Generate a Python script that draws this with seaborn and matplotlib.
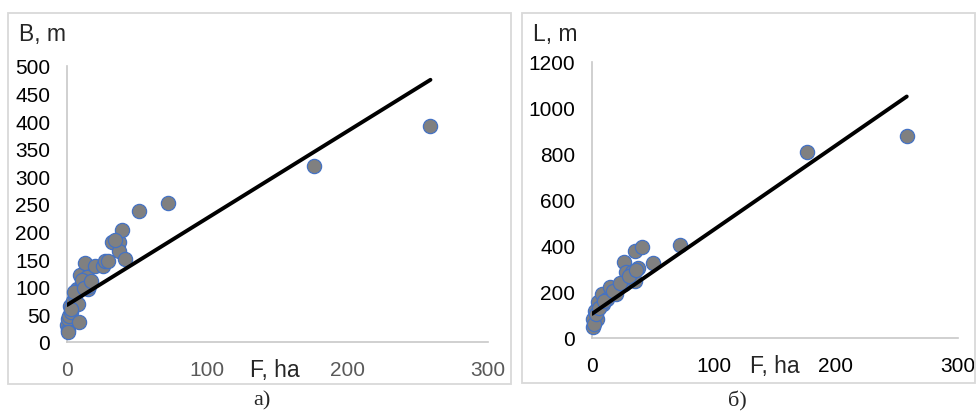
import pandas as pd
import seaborn as sns
import matplotlib.pyplot as plt
from matplotlib.patches import Rectangle

# panel a) - B vs F
F_a = [0.3, 0.5, 1, 1.5, 2, 3, 4.5, 6, 7, 8, 8.5, 10.5, 9, 13, 14, 15, 16, 20, 26,
       27, 32, 37, 37, 39, 41, 51, 72, 176, 259, 1, 2.5, 5, 11, 12, 17, 29, 34]
B_a = [30, 21, 42, 48, 66, 54, 75, 84, 96, 69, 36, 105, 121, 144, 117, 96, 102, 138, 138,
       146, 182, 181, 165, 203, 150, 238, 251, 319, 391, 18, 60, 90, 112, 98, 110, 147, 185]
trend_F_a = [0, 259]
trend_B_a = [67, 475]

# panel б) - L vs F
F_b = [0.5, 1, 2.5, 4, 5, 8, 9, 12, 15, 20, 26, 26, 28, 32.5, 35, 35, 38, 41, 50,
       72, 176, 258, 1.5, 3, 6, 10, 17, 23, 30, 36]
L_b = [47, 83, 119, 83, 155, 191, 148, 170, 220, 191, 235, 332, 285, 285, 249, 377,
       303, 394, 325, 404, 809, 878, 60, 105, 130, 160, 205, 240, 270, 295]
trend_F_b = [0, 258]
trend_L_b = [105, 1050]

sns.set_style("white")
plt.rcParams['font.family'] = ['Liberation Sans', 'DejaVu Sans']

fig = plt.figure(figsize=(9.79, 4.14), dpi=100)
W, H = 979, 414


def px_axes(x0, x1, y0, y1):
    return fig.add_axes([x0 / W, 1 - y0 / H, (x1 - x0) / W, (y0 - y1) / H])


ax1 = px_axes(67, 488, 343, 67)
ax2 = px_axes(592, 958, 339, 63)

grey_spine = '#c8c8c8'
for ax, F, Y, tF, tY, ymax, ystep, xcol in [
        (ax1, F_a, B_a, trend_F_a, trend_B_a, 500, 50, '#595959'),
        (ax2, F_b, L_b, trend_F_b, trend_L_b, 1200, 200, 'black')]:
    df = pd.DataFrame({'F': F, 'Y': Y})
    sns.scatterplot(data=df, x='F', y='Y', ax=ax, s=105, color='#808080',
                    edgecolor='#4472C4', linewidth=0.9, zorder=3, clip_on=False)
    tdf = pd.DataFrame({'F': tF, 'Y': tY})
    sns.lineplot(data=tdf, x='F', y='Y', ax=ax, color='black', linewidth=2.8, zorder=4)
    ax.set_xlim(0, 300)
    ax.set_ylim(0, ymax)
    ax.set_xticks([0, 100, 200, 300])
    ax.set_yticks(range(0, ymax + 1, ystep))
    ax.set_xlabel('')
    ax.set_ylabel('')
    for s in ['top', 'right']:
        ax.spines[s].set_visible(False)
    for s in ['left', 'bottom']:
        ax.spines[s].set_color(grey_spine)
        ax.spines[s].set_linewidth(1.2)
    ax.tick_params(axis='both', length=0, labelsize=15)
    ax.tick_params(axis='x', pad=13, labelcolor=xcol)
    ax.tick_params(axis='y', pad=12, labelcolor='black')
    ax.set_facecolor('none')

ax1.text(0.435, -0.098, 'F, ha', transform=ax1.transAxes, fontsize=16.5, va='center', ha='left')
ax2.text(0.432, -0.101, 'F, ha', transform=ax2.transAxes, fontsize=16.5, va='center', ha='left')

fig.text(19 / W, 1 - 34 / H, 'B, m', fontsize=16.5, va='center', ha='left')
fig.text(533 / W, 1 - 34 / H, 'L, m', fontsize=16.5, va='center', ha='left')

# frames around both panels
for x0, y0, x1, y1 in [(8, 14, 511, 385), (522, 14, 975, 384)]:
    fig.patches.append(Rectangle((x0 / W, 1 - y1 / H), (x1 - x0) / W, (y1 - y0) / H,
                                 transform=fig.transFigure, fill=False,
                                 edgecolor='#d9d9d9', linewidth=1.3, zorder=0))

fig.text(262 / W, 1 - 401 / H, 'a)', fontsize=16, family='Liberation Serif', ha='center', va='center')
fig.text(737 / W, 1 - 401 / H, 'б)', fontsize=16, family='Liberation Serif', ha='center', va='center')

plt.savefig('out.png', dpi=100)
